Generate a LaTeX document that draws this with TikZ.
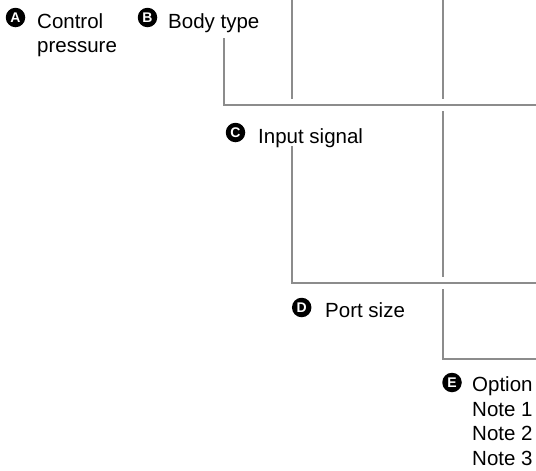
\documentclass[tikz,border=0pt]{standalone}
\usepackage{fontspec}
\setmainfont{Liberation Sans}
\begin{document}
\begin{tikzpicture}[x=1pt,y=-1pt,
  line/.style={draw=linegray,line width=2pt},
  badge/.style={circle,fill=black,text=white,inner sep=0pt,minimum size=19.5pt,font=\fontsize{14}{14}\selectfont\bfseries},
  lbl/.style={anchor=base west,inner sep=0pt,align=left,font=\fontsize{20.5}{24.5}\selectfont}]
\definecolor{linegray}{HTML}{8C8C8C}
\useasboundingbox (0,0) rectangle (536,471);
% labels (multi-line labels are anchored at the baseline of their last line)
\node[badge] (ba) at (15.5,17.5) {A};
\node[lbl] (ta) at (37,52.8) {Control\\pressure};
\node[badge] (bb) at (147.5,17.5) {B};
\node[lbl] (tb) at (168,28.3) {Body type};
\node[badge] (bc) at (235.5,132.5) {C};
\node[lbl] (tc) at (258,143) {Input signal};
\node[badge] (bd) at (301.7,307.5) {D};
\node[lbl] (td) at (325,317.7) {Port size};
\node[badge] (be) at (452,382.5) {E};
\node[lbl] (te) at (472,465.2) {Option\\Note 1\\Note 2\\Note 3};
% coordinates
\coordinate (c1t) at (292,0);   \coordinate (c1b) at (292,99);
\coordinate (c2t) at (443,0);   \coordinate (c2b) at (443,99);
\coordinate (bt) at (224,38);   \coordinate (bc1) at (224,105); \coordinate (br) at (536,105);
\coordinate (c3t) at (443,111); \coordinate (c3b) at (443,277);
\coordinate (ct) at (292,146);  \coordinate (cc1) at (292,282.7); \coordinate (cr) at (536,282.7);
\coordinate (dt) at (443,289);  \coordinate (dc1) at (443,359); \coordinate (dr) at (536,359);
% lines
\draw[line] (c1t) -- (c1b);
\draw[line] (c2t) -- (c2b);
\draw[line] (bt) -- (bc1) -- (br);
\draw[line] (c3t) -- (c3b);
\draw[line] (ct) -- (cc1) -- (cr);
\draw[line] (dt) -- (dc1) -- (dr);
\end{tikzpicture}
\end{document}
